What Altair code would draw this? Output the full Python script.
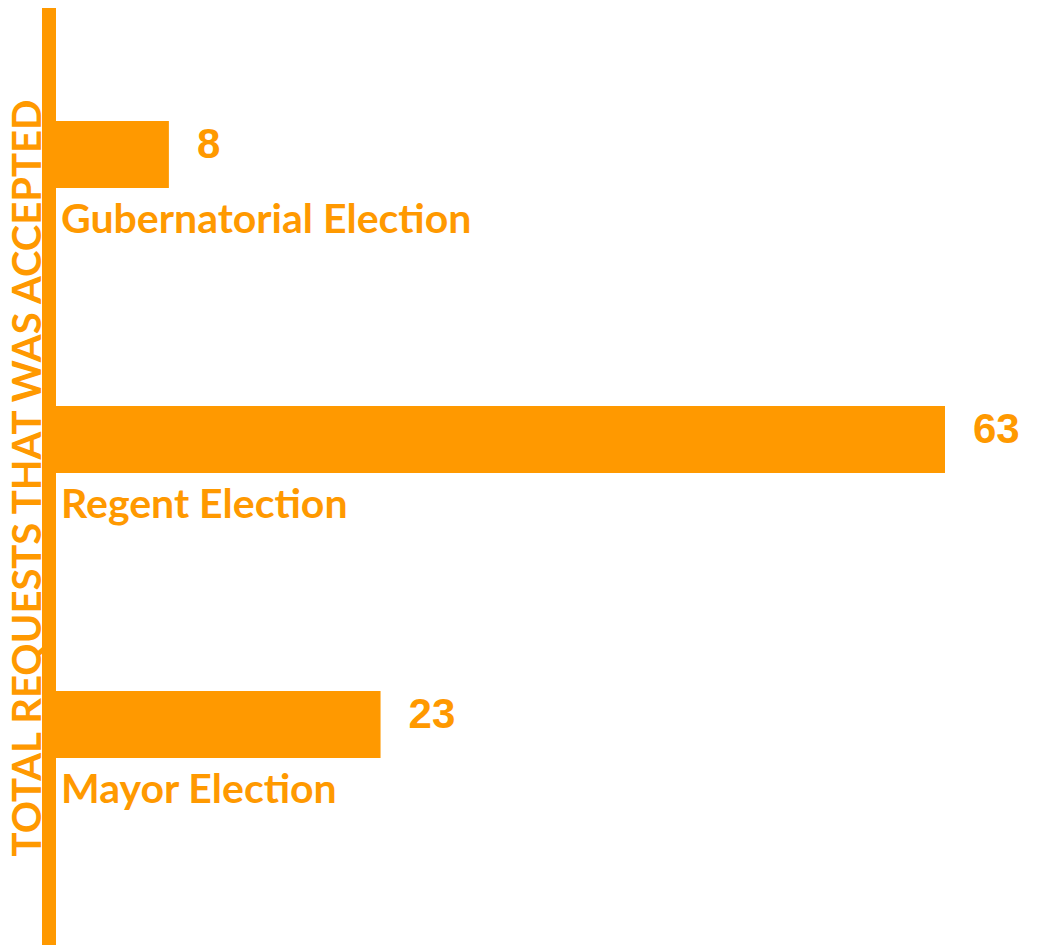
import altair as alt
import pandas as pd

categories = ["Gubernatorial Election", "Regent Election", "Mayor Election"]
values = [8, 63, 23]
axis_title = "TOTAL REQUESTS THAT WAS ACCEPTED"

ORANGE = "#FF9900"
LABEL_FONT = "Lato"
df = pd.DataFrame({"category": categories, "value": values})

y_enc = alt.Y("category:N", sort=categories, axis=None,
              scale=alt.Scale(paddingInner=0, paddingOuter=0))
x_scale = alt.Scale(domain=[0, 63], nice=False, zero=True)

base = alt.Chart(df)

bars = base.mark_bar(color=ORANGE, size=67).encode(
    x=alt.X("value:Q", scale=x_scale, axis=None),
    y=y_enc,
)

value_text = base.mark_text(
    align="left", baseline="middle", dx=28, dy=-10,
    font="Liberation Sans", fontWeight="bold", fontSize=42, color=ORANGE,
).encode(
    x=alt.X("value:Q", scale=x_scale, axis=None),
    y=y_enc,
    text=alt.Text("value:Q"),
)

cat_text = base.mark_text(
    align="left", baseline="alphabetic", dy=78,
    font=LABEL_FONT, fontWeight="bold", fontSize=41, color=ORANGE,
).encode(
    x=alt.value(5),
    y=y_enc,
    text="category:N",
)

title_text = alt.Chart(pd.DataFrame({"t": [axis_title]})).mark_text(
    angle=270, align="center", baseline="middle",
    font=LABEL_FONT, fontWeight="bold", fontSize=40, color=ORANGE,
).encode(x=alt.value(-27), y=alt.value(466), text="t:N")

axis_line = alt.Chart(pd.DataFrame({"t": [axis_title]})).mark_rule(
    color=ORANGE, strokeWidth=14
).encode(x=alt.value(-7), y=alt.value(-10), y2=alt.value(940))

chart = alt.layer(title_text, axis_line, bars, value_text, cat_text).properties(
    width=889, height=855,
    autosize=alt.AutoSizeParams(type="none"),
    padding={"left": 48, "top": 4, "right": 85, "bottom": 78},
).configure_view(stroke=None)

chart.save("out.html", embed_options={"renderer": "svg", "actions": False})
